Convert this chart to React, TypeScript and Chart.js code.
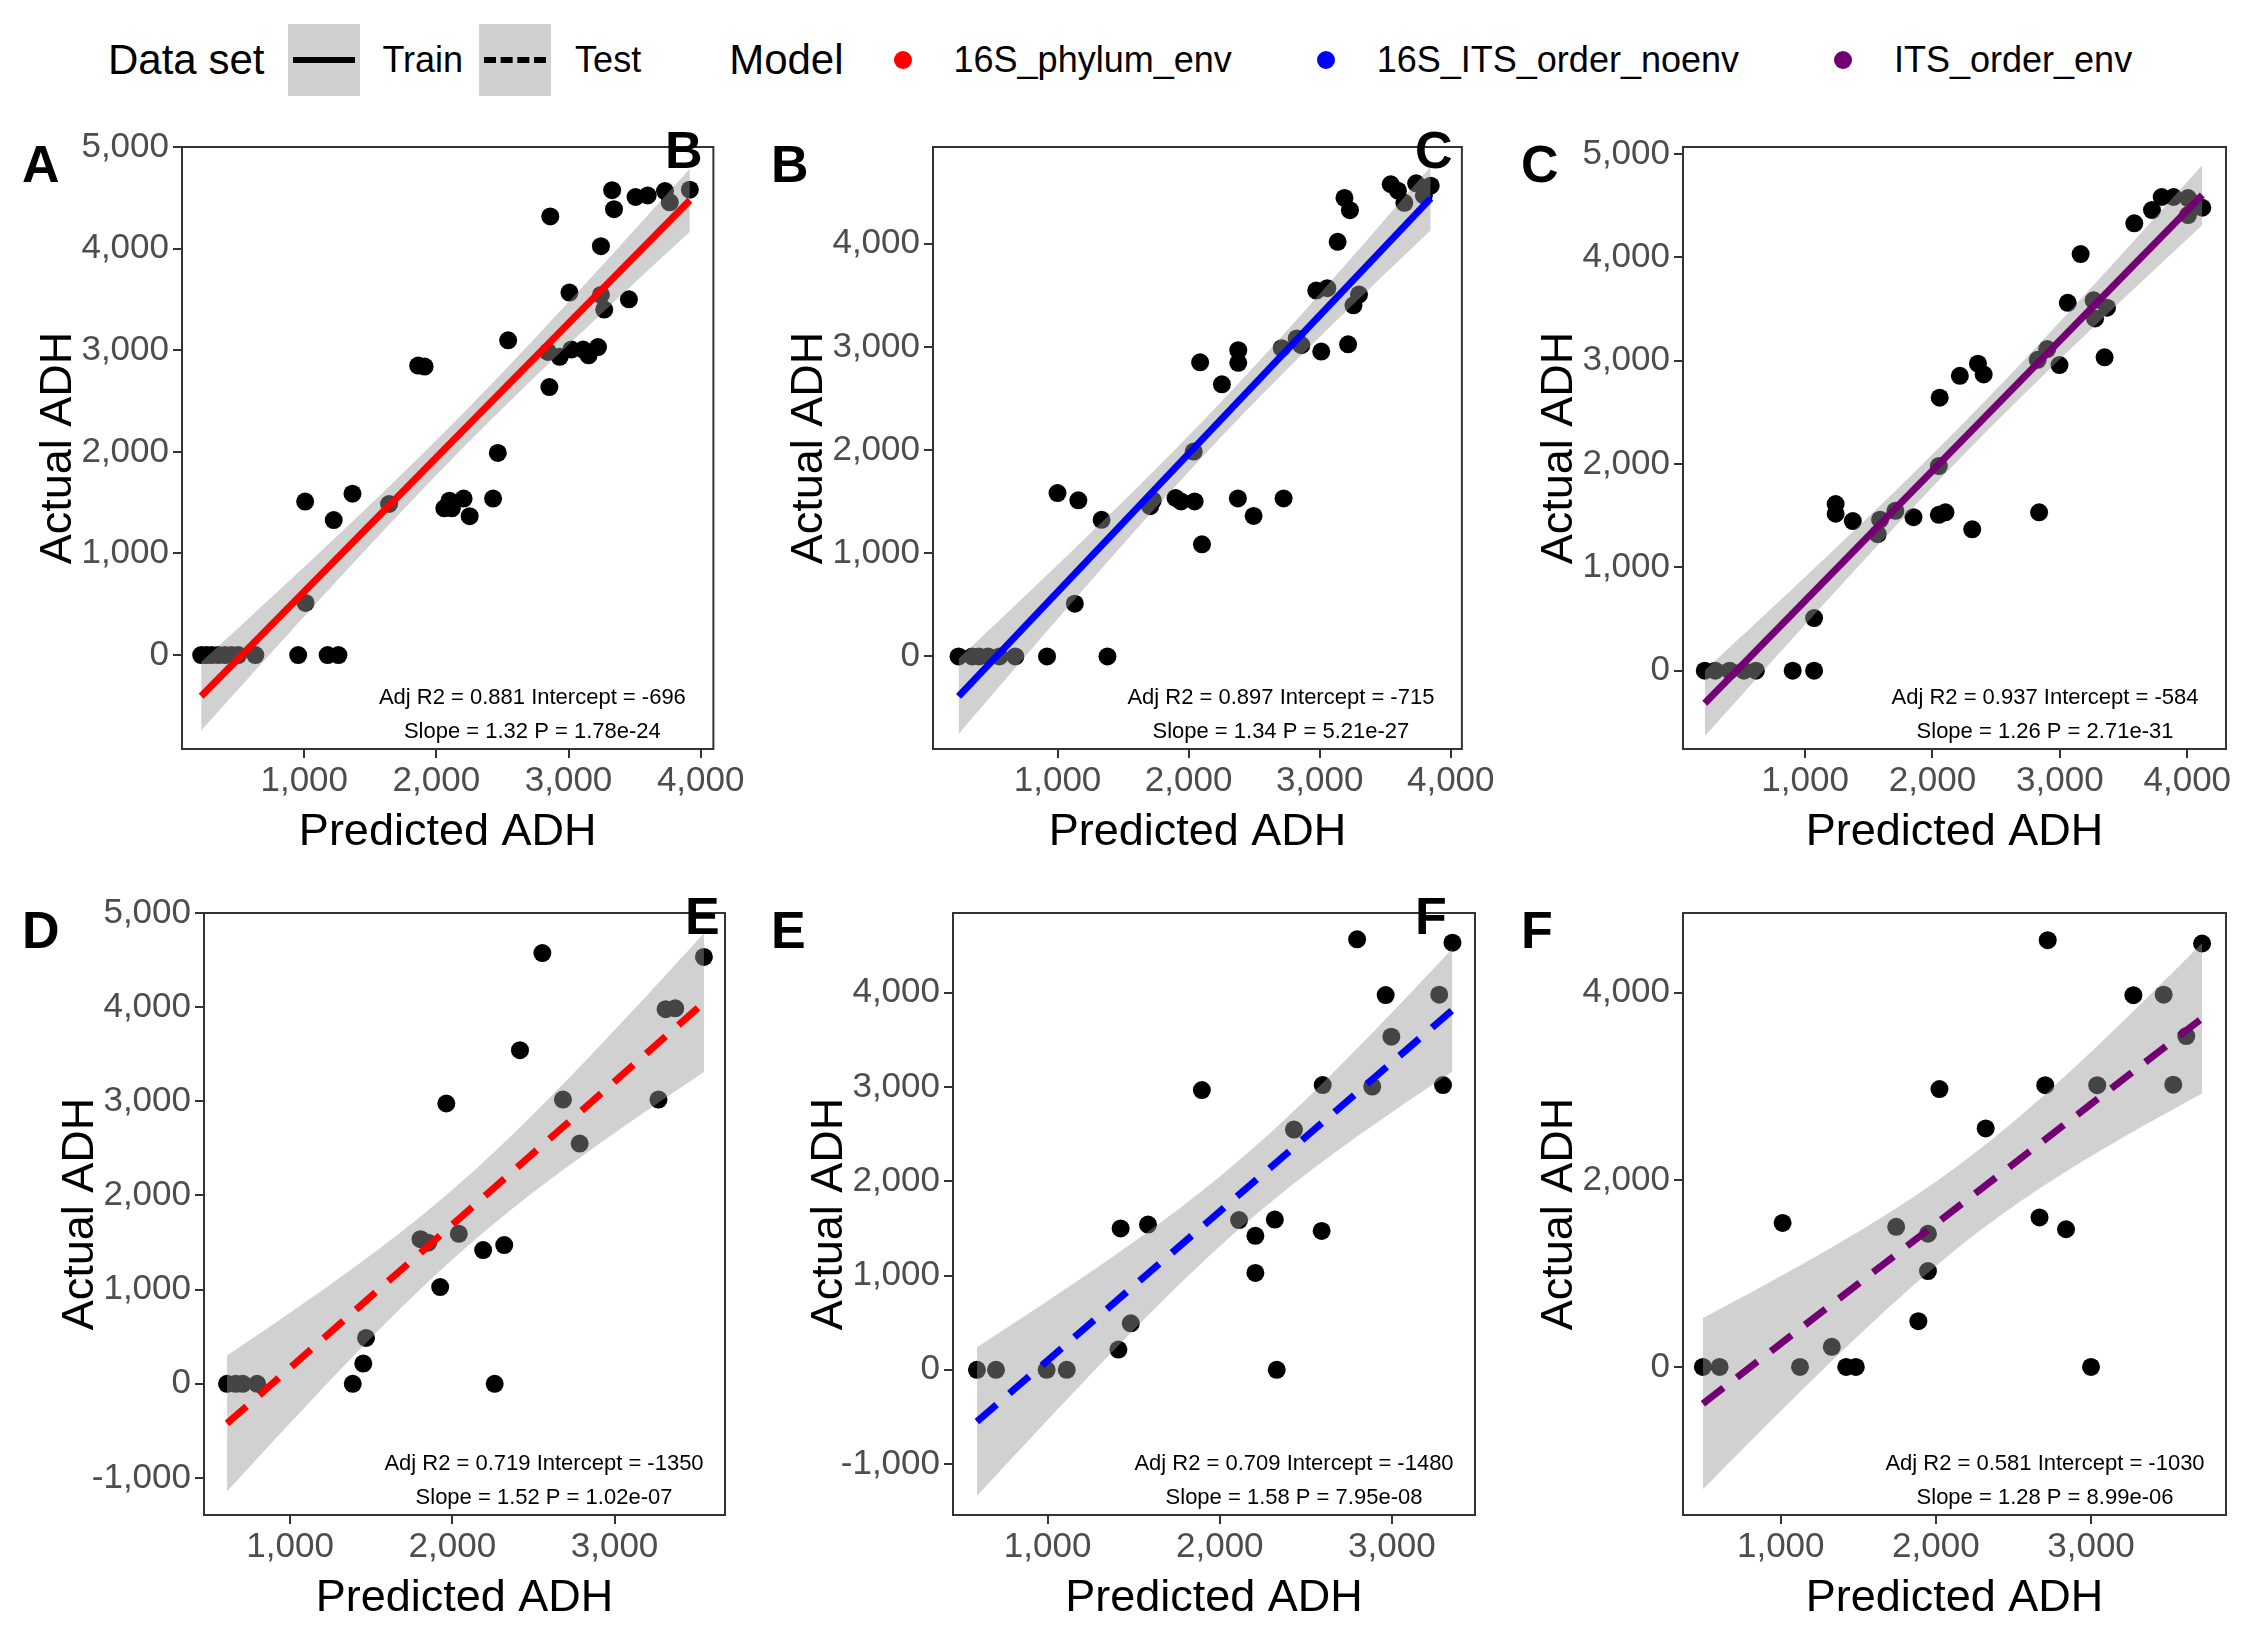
import React, { useEffect, useRef } from 'react';
import { Chart, registerables } from 'chart.js';

Chart.register(...registerables);

const FONT = '"Liberation Sans", Arial, sans-serif';

// Panel A: train, 16S_phylum_env
const predA = [220, 260, 300, 350, 400, 450, 500, 630, 954, 1177, 1259, 1010, 1007, 1223, 1365, 1642, 1862, 1911, 2060, 2117, 2099, 2206, 2252, 2429, 2465, 2543, 2862, 2855, 2844, 2933, 3021, 3110, 3152, 3223, 3007, 3245, 3270, 3245, 3457, 3330, 3344, 3507, 3599, 3730, 3766, 3918];
const actA = [0, 0, 0, 0, 0, 0, 0, 0, 0, 0, 0, 513, 1511, 1329, 1588, 1487, 2849, 2839, 1444, 1444, 1520, 1540, 1367, 1540, 1990, 3098, 4317, 2638, 2983, 2935, 3007, 3007, 2950, 3031, 3568, 3544, 3400, 4024, 3501, 4575, 4388, 4508, 4523, 4566, 4456, 4580];
// Panel B: train, 16S_ITS_order_noenv
const predB = [245, 349, 401, 470, 557, 678, 920, 1381, 1132, 1000, 1159, 1336, 1707, 1727, 1900, 1942, 2046, 2039, 2088, 2102, 2254, 2379, 2379, 2376, 2496, 2725, 2711, 2825, 2860, 3012, 2974, 3058, 3217, 3258, 3300, 3137, 3189, 3231, 3542, 3597, 3646, 3736, 3795, 3847];
const actB = [0, 0, 0, 0, 0, 0, 0, 0, 511, 1584, 1513, 1324, 1456, 1513, 1537, 1503, 1503, 1986, 2851, 1087, 2638, 2969, 2846, 1532, 1362, 1532, 2988, 3083, 3017, 2955, 3546, 3570, 3026, 3404, 3508, 4019, 4444, 4326, 4577, 4515, 4397, 4586, 4468, 4563];
// Panel C: train, ITS_order_env
const predC = [213, 295, 408, 520, 614, 903, 1071, 1071, 1240, 1240, 1375, 1570, 1589, 1709, 1851, 2057, 2050, 2050, 2102, 2215, 2312, 2357, 2402, 2837, 2826, 2901, 2997, 3062, 3163, 3265, 3276, 3370, 3351, 3584, 3723, 3799, 3892, 4006, 4006, 4118];
const actC = [0, 0, 0, 0, 0, 0, 0, 509, 1613, 1519, 1448, 1321, 1462, 1547, 1486, 2642, 1981, 1509, 1533, 2854, 1368, 2972, 2868, 1533, 3009, 3113, 2958, 3561, 4033, 3585, 3410, 3514, 3033, 4330, 4458, 4585, 4585, 4575, 4410, 4481];
// Panel D: test, 16S_phylum_env
const predD = [611, 664, 708, 797, 1386, 1451, 1468, 1804, 1851, 1925, 1963, 2040, 2190, 2320, 2261, 2417, 2555, 2682, 2785, 3271, 3315, 3374, 3551];
const actD = [0, 0, 0, 0, 0, 215, 487, 1536, 1499, 1027, 2977, 1593, 1420, 1473, 0, 3543, 4575, 3019, 2552, 3019, 3978, 3988, 4533];
// Panel E: test, 16S_ITS_order_noenv
const predE = [589, 700, 994, 1111, 2331, 1411, 1424, 1483, 1583, 1896, 2112, 2207, 2207, 2320, 2431, 2592, 2598, 2798, 2886, 2964, 2997, 3275, 3297, 3352];
const actE = [0, 0, 0, 0, 0, 215, 1499, 493, 1541, 2967, 1588, 1421, 1027, 1594, 2548, 1473, 3020, 4566, 3004, 3974, 3533, 3979, 3020, 4530];
// Panel F: test, ITS_order_env
const predF = [498, 606, 1124, 1422, 1484, 3000, 1012, 1329, 1744, 1887, 1949, 1949, 2023, 2321, 2668, 2705, 2721, 2839, 3040, 3273, 3468, 3530, 3614, 3716];
const actF = [0, 0, 0, 0, 0, 0, 1540, 215, 1498, 489, 1424, 1025, 2970, 2549, 1598, 3012, 4562, 1472, 3012, 3974, 3979, 3017, 3537, 4526];

const panelLetters = ['A', 'B', 'C', 'D', 'E', 'F'];
const slopes = [1.32, 1.34, 1.26, 1.52, 1.58, 1.28];
const intercepts = [-696, -715, -584, -1350, -1480, -1030];
const adjR2 = ['0.881', '0.897', '0.937', '0.719', '0.709', '0.581'];
const pValues = ['1.78e-24', '5.21e-27', '2.71e-31', '1.02e-07', '7.95e-08', '8.99e-06'];
const modelNames = ['16S_phylum_env', '16S_ITS_order_noenv', 'ITS_order_env'];
const modelColors = ['#ff0000', '#0000ff', '#730073'];

const xTicksTop = [1000, 2000, 3000, 4000];
const xTicksBottom = [1000, 2000, 3000];
const yTicksA = [0, 1000, 2000, 3000, 4000, 5000];
const yTicksB = [0, 1000, 2000, 3000, 4000];
const yTicksD = [-1000, 0, 1000, 2000, 3000, 4000, 5000];
const yTicksE = [-1000, 0, 1000, 2000, 3000, 4000];
const yTicksF = [0, 2000, 4000];

interface Panel {
  pred: number[];
  act: number[];
  model: number;
  dashed: boolean;
  xMin: number; xMax: number; yMin: number; yMax: number;
  xTicks: number[]; yTicks: number[];
  rect: [number, number, number, number];
}

const panels: Panel[] = [
  { pred: predA, act: actA, model: 0, dashed: false, xMin: 75, xMax: 4096, yMin: -924, yMax: 5000, xTicks: xTicksTop, yTicks: yTicksA, rect: [182, 142, 725, 749] },
  { pred: predB, act: actB, model: 1, dashed: false, xMin: 50, xMax: 4085, yMin: -897, yMax: 4938, xTicks: xTicksTop, yTicks: yTicksB, rect: [933, 142, 1475, 749] },
  { pred: predC, act: actC, model: 2, dashed: false, xMin: 42, xMax: 4304, yMin: -758, yMax: 5069, xTicks: xTicksTop, yTicks: yTicksA, rect: [1683, 142, 2226, 749] },
  { pred: predD, act: actD, model: 0, dashed: true, xMin: 469, xMax: 3681, yMin: -1393, yMax: 5000, xTicks: xTicksBottom, yTicks: yTicksD, rect: [204, 908, 725, 1515] },
  { pred: predE, act: actE, model: 1, dashed: true, xMin: 450, xMax: 3483, yMin: -1540, yMax: 4845, xTicks: xTicksBottom, yTicks: yTicksE, rect: [953, 908, 1475, 1515] },
  { pred: predF, act: actF, model: 2, dashed: true, xMin: 370, xMax: 3870, yMin: -1582, yMax: 4852, xTicks: xTicksBottom, yTicks: yTicksF, rect: [1683, 908, 2226, 1515] },
];

const Y_AXIS_W = 150;
const X_AXIS_H = 115;
const PAD_TOP = 20;
const PAD_RIGHT = 22;

// confidence band of the fitted line, from the points' residuals
function band(xs: number[], ys: number[], slope: number, intercept: number) {
  const n = xs.length;
  const xbar = xs.reduce((a, b) => a + b, 0) / n;
  const sxx = xs.reduce((a, x) => a + (x - xbar) ** 2, 0);
  const sse = xs.reduce((a, x, i) => a + (ys[i] - (intercept + slope * x)) ** 2, 0);
  const s = Math.sqrt(sse / (n - 2));
  const t = n > 40 ? 2.0 : 2.07;
  const lo = Math.min(...xs);
  const hi = Math.max(...xs);
  const upper: { x: number; y: number }[] = [];
  const lower: { x: number; y: number }[] = [];
  for (let k = 0; k <= 60; k++) {
    const x = lo + ((hi - lo) * k) / 60;
    const fit = intercept + slope * x;
    const half = t * s * Math.sqrt(1 / n + (x - xbar) ** 2 / sxx);
    upper.push({ x, y: fit + half });
    lower.push({ x, y: fit - half });
  }
  return { upper, lower, lo, hi };
}

const PanelChart: React.FC<{ p: Panel; idx: number }> = ({ p, idx }) => {
  const ref = useRef<HTMLCanvasElement>(null);
  const [l, t, r, b] = p.rect;
  const w = Y_AXIS_W + (r - l) + PAD_RIGHT;
  const h = PAD_TOP + (b - t) + X_AXIS_H;

  useEffect(() => {
    if (!ref.current) return;
    const slope = slopes[idx];
    const intercept = intercepts[idx];
    const bd = band(p.pred, p.act, slope, intercept);
    const color = modelColors[p.model];

    const framePlugin = {
      id: 'frame',
      afterDraw: (chart: Chart) => {
        const { ctx, chartArea: a } = chart;
        ctx.save();
        ctx.strokeStyle = '#333333';
        ctx.lineWidth = 2;
        ctx.strokeRect(a.left, a.top, a.right - a.left, a.bottom - a.top);
        ctx.fillStyle = '#000';
        ctx.font = `22px ${FONT}`;
        ctx.textAlign = 'center';
        ctx.textBaseline = 'middle';
        const cx = a.right - 181;
        ctx.fillText(`Adj R2 = ${adjR2[idx]} Intercept = ${intercept}`, cx, a.bottom - 51);
        ctx.fillText(`Slope = ${slope} P = ${pValues[idx]}`, cx, a.bottom - 17);
        ctx.restore();
      },
    };

    const chart = new Chart(ref.current, {
      type: 'scatter',
      data: {
        datasets: [
          {
            data: p.pred.map((x, i) => ({ x, y: p.act[i] })),
            backgroundColor: '#000',
            borderWidth: 0,
            pointRadius: 9,
            order: 4,
          },
          {
            data: bd.upper,
            showLine: true,
            borderWidth: 0,
            pointRadius: 0,
            borderColor: 'transparent',
            order: 3,
          },
          {
            data: bd.lower,
            showLine: true,
            borderWidth: 0,
            pointRadius: 0,
            borderColor: 'transparent',
            backgroundColor: 'rgba(153,153,153,0.45)',
            fill: '-1',
            order: 2,
          },
          {
            data: [
              { x: bd.lo, y: intercept + slope * bd.lo },
              { x: bd.hi, y: intercept + slope * bd.hi },
            ],
            showLine: true,
            borderColor: color,
            borderWidth: 7,
            borderDash: p.dashed ? [26, 17] : [],
            pointRadius: 0,
            order: 1,
          },
        ] as any,
      },
      options: {
        animation: false,
        responsive: false,
        devicePixelRatio: 1,
        layout: { padding: { top: PAD_TOP, right: PAD_RIGHT, left: 0, bottom: 0 } },
        plugins: { legend: { display: false }, tooltip: { enabled: false } },
        scales: {
          x: {
            type: 'linear',
            min: p.xMin,
            max: p.xMax,
            afterBuildTicks: (s: any) => { s.ticks = p.xTicks.map((v) => ({ value: v })); },
            afterFit: (s: any) => { s.height = X_AXIS_H; },
            grid: { drawOnChartArea: false, color: '#333', lineWidth: 2, tickLength: 9 },
            border: { display: false },
            ticks: { color: '#4d4d4d', font: { family: FONT, size: 35 }, padding: 2, maxRotation: 0 },
            title: { display: true, text: 'Predicted ADH', color: '#000', font: { family: FONT, size: 45 }, padding: { top: 0, bottom: 4 } },
          },
          y: {
            type: 'linear',
            min: p.yMin,
            max: p.yMax,
            afterBuildTicks: (s: any) => { s.ticks = p.yTicks.map((v) => ({ value: v })); },
            afterFit: (s: any) => { s.width = Y_AXIS_W; },
            grid: { drawOnChartArea: false, color: '#333', lineWidth: 2, tickLength: 9 },
            border: { display: false },
            ticks: { color: '#4d4d4d', font: { family: FONT, size: 35 }, padding: 4 },
            title: { display: true, text: 'Actual ADH', color: '#000', font: { family: FONT, size: 45 }, padding: { top: 0, bottom: 0 } },
          },
        },
      } as any,
      plugins: [framePlugin],
    });
    return () => chart.destroy();
  }, [p, idx]);

  return (
    <>
      <canvas
        ref={ref}
        width={w}
        height={h}
        style={{ position: 'absolute', left: l - Y_AXIS_W, top: t - PAD_TOP, width: w, height: h }}
      />
      <div
        style={{
          position: 'absolute',
          left: l - Y_AXIS_W - 118 + (idx % 3 === 0 ? 0 : 0),
          top: t - 22,
          fontFamily: FONT,
          fontWeight: 'bold',
          fontSize: 52,
          lineHeight: '60px',
        }}
      >
        {panelLetters[idx]}
      </div>
    </>
  );
};

const KeyBox: React.FC<{ dashed: boolean }> = ({ dashed }) => (
  <div style={{ width: 72, height: 72, background: '#d0d0d0', display: 'flex', alignItems: 'center', justifyContent: 'center' }}>
    <div
      style={{
        width: 62,
        height: 0,
        borderTop: `6px ${dashed ? 'dashed' : 'solid'} #000`,
      }}
    />
  </div>
);

const letterLeft = [22, 771, 1521, 22, 771, 1521];

export default function App() {
  return (
    <div style={{ position: 'absolute', left: 0, top: 0, width: 2250, height: 1650, background: '#fff', fontFamily: FONT }}>
      <div style={{ position: 'absolute', left: 108, top: 24, height: 72, display: 'flex', alignItems: 'center', fontSize: 36, color: '#000' }}>
        <span style={{ fontSize: 42, marginRight: 24 }}>Data set</span>
        <KeyBox dashed={false} />
        <span style={{ marginLeft: 22, marginRight: 16 }}>Train</span>
        <KeyBox dashed={true} />
        <span style={{ marginLeft: 24, marginRight: 88 }}>Test</span>
        <span style={{ fontSize: 42, marginRight: 50 }}>Model</span>
        {modelNames.map((m, i) => (
          <React.Fragment key={m}>
            <span style={{ width: 18, height: 18, borderRadius: 9, background: modelColors[i], display: 'inline-block', marginRight: 42 }} />
            <span style={{ marginRight: [85, 95, 0][i] }}>{m}</span>
          </React.Fragment>
        ))}
      </div>
      {panels.map((p, i) => (
        <React.Fragment key={i}>
          <PanelChart p={p} idx={i} />
          <div style={{ position: 'absolute', left: letterLeft[i], top: p.rect[1] - 8, fontWeight: 'bold', fontSize: 52, lineHeight: '60px' }}>
            {panelLetters[i]}
          </div>
        </React.Fragment>
      ))}
    </div>
  );
}
